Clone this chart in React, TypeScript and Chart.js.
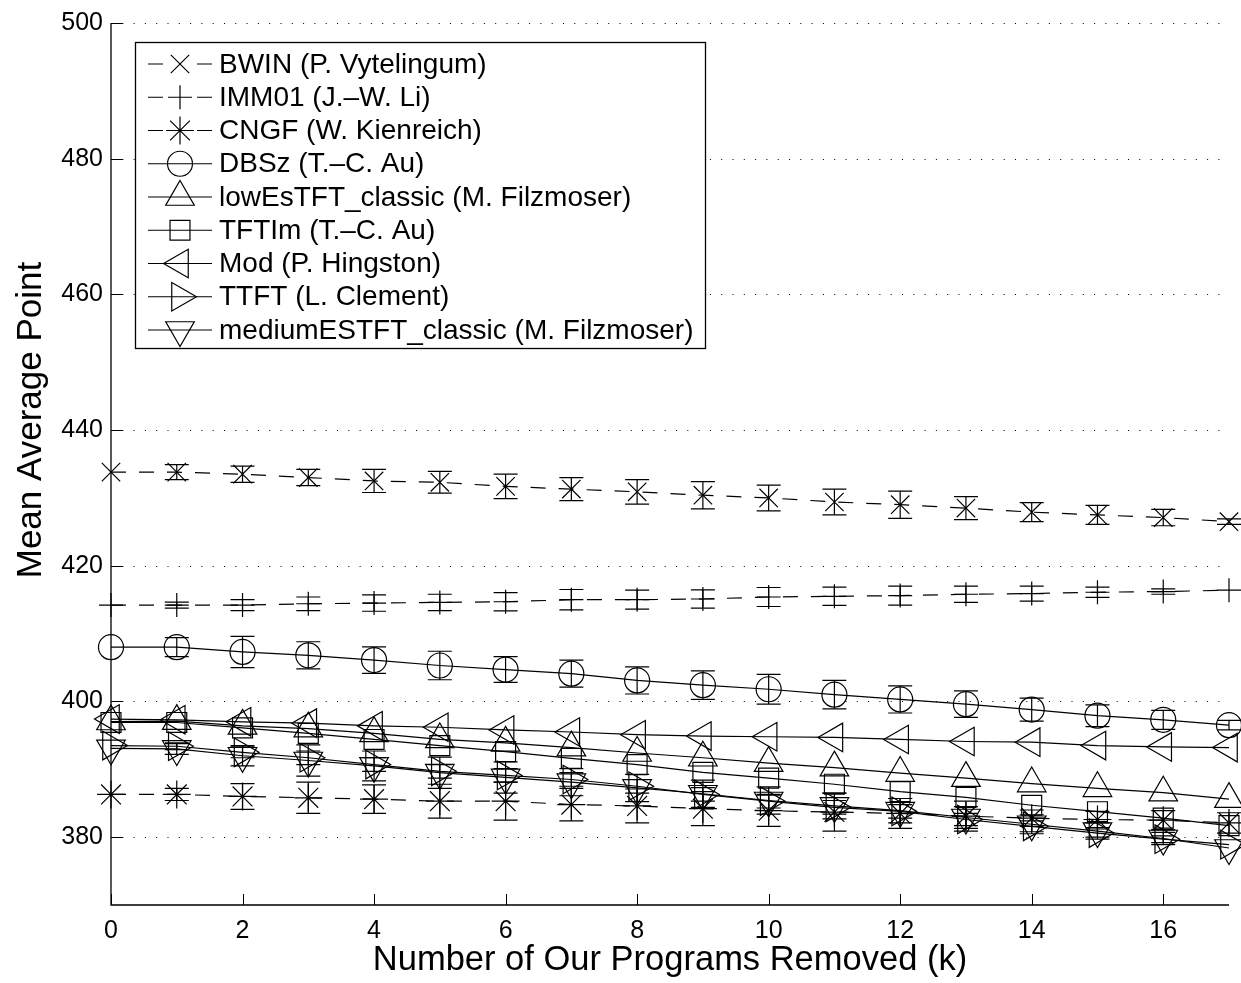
import React, { useEffect, useRef } from "react";
import { Chart, registerables } from "chart.js";

Chart.register(...registerables);

// ---------- data ----------
const kValues = [0, 1, 2, 3, 4, 5, 6, 7, 8, 9, 10, 11, 12, 13, 14, 15, 16, 17];
const xTickValues = [0, 2, 4, 6, 8, 10, 12, 14, 16];
const yTickValues = [380, 400, 420, 440, 460, 480, 500];
const xTitle = "Number of Our Programs Removed (k)";
const yTitle = "Mean Average Point";

const seriesLabels = [
  "BWIN (P. Vytelingum)",
  "IMM01 (J.\u2013W. Li)",
  "CNGF (W. Kienreich)",
  "DBSz (T.\u2013C. Au)",
  "lowEsTFT_classic (M. Filzmoser)",
  "TFTIm (T.\u2013C. Au)",
  "Mod (P. Hingston)",
  "TTFT (L. Clement)",
  "mediumESTFT_classic (M. Filzmoser)",
];

const bwin = [433.8, 433.8, 433.5, 433.0, 432.5, 432.3, 431.7, 431.3, 430.9, 430.4, 430.0, 429.4, 429.0, 428.5, 427.9, 427.5, 427.1, 426.5];
const bwinErr = [0, 1.1, 1.2, 1.2, 1.7, 1.6, 1.8, 1.7, 1.8, 2.0, 1.9, 1.9, 2.0, 1.7, 1.4, 1.4, 1.2, 0.4];

const imm01 = [414.2, 414.2, 414.2, 414.4, 414.5, 414.6, 414.7, 415.0, 415.0, 415.1, 415.4, 415.5, 415.6, 415.8, 415.9, 416.1, 416.2, 416.4];
const imm01Err = [0, 0.45, 0.8, 1.0, 1.2, 1.2, 1.35, 1.5, 1.4, 1.35, 1.4, 1.35, 1.4, 1.2, 1.1, 0.75, 0.4, 0];

const cngf = [386.3, 386.3, 386.0, 385.8, 385.6, 385.3, 385.3, 384.8, 384.6, 384.2, 383.9, 383.7, 383.5, 383.1, 382.8, 382.6, 382.5, 382.1];
const cngfErr = [0, 0.9, 1.9, 2.3, 2.1, 2.5, 2.8, 2.4, 2.5, 2.5, 2.3, 2.8, 2.2, 2.2, 1.2, 1.2, 1.4, 1.5];

const dbsz = [408.0, 408.0, 407.3, 406.8, 406.1, 405.3, 404.7, 404.1, 403.1, 402.4, 401.8, 401.0, 400.3, 399.6, 398.8, 397.9, 397.3, 396.5];
const dbszErr = [0, 1.4, 2.3, 2.0, 1.95, 2.1, 1.9, 2.0, 2.0, 2.1, 2.2, 2.1, 2.0, 1.95, 1.7, 1.6, 1.4, 0.7];

const lowEs = [397.05, 397.1, 396.4, 396.0, 395.3, 394.4, 393.9, 393.2, 392.4, 391.7, 390.9, 390.25, 389.45, 388.7, 387.9, 387.2, 386.55, 385.6];
const lowEsErr = [0, 0, 0, 0, 0, 0, 0, 0, 0, 0, 0, 0, 0, 0, 0, 0, 0, 0];

const tftim = [396.9, 396.9, 396.1, 395.3, 394.4, 393.5, 392.6, 391.6, 390.7, 389.55, 388.7, 387.8, 386.7, 385.85, 384.7, 383.75, 382.8, 381.7];
const tftimErr = [0, 0, 0, 0, 0, 0, 0, 0, 0, 0, 0, 0, 0, 0, 0, 0, 0, 0];

const mod = [397.4, 397.3, 397.0, 396.8, 396.4, 396.2, 395.8, 395.5, 395.1, 394.9, 394.8, 394.7, 394.4, 394.1, 394.0, 393.5, 393.3, 393.2];
const modErr = [0, 0, 0, 0, 0, 0, 0, 0, 0, 0, 0, 0, 0, 0, 0, 0, 0, 0];

const ttft = [393.5, 393.4, 392.5, 391.7, 390.7, 389.7, 389.1, 388.5, 387.5, 386.3, 385.3, 384.4, 383.8, 382.6, 381.6, 380.6, 379.7, 378.9];
const ttftErr = [0, 0.5, 0.8, 1.0, 1.0, 1.0, 1.0, 1.0, 1.0, 1.0, 1.0, 1.0, 1.0, 0.9, 0.8, 0.6, 0.5, 0];

const mediumEs = [393.1, 393.0, 392.0, 391.3, 390.5, 389.5, 388.8, 388.1, 387.25, 386.4, 385.4, 384.6, 383.9, 382.9, 381.9, 380.9, 379.8, 378.4];
const mediumEsErr = [0, 0.8, 1.5, 2.3, 2.2, 2.3, 2.3, 2.0, 2.0, 2.0, 2.0, 1.9, 1.8, 1.6, 1.4, 1.2, 0.9, 0];

const seriesValues = [bwin, imm01, cngf, dbsz, lowEs, tftim, mod, ttft, mediumEs];
const seriesErrors = [bwinErr, imm01Err, cngfErr, dbszErr, lowEsErr, tftimErr, modErr, ttftErr, mediumEsErr];

// ---------- styles ----------
const FONT = "'Liberation Sans', Arial, Helvetica, sans-serif";
type MarkerStyle = { style: string; radius: number; rotation: number; dashed: boolean };
const markerStyles: MarkerStyle[] = [
  { style: "crossRot", radius: 13, rotation: 0, dashed: true },
  { style: "cross", radius: 12, rotation: 0, dashed: true },
  { style: "star", radius: 14, rotation: 0, dashed: true },
  { style: "circle", radius: 12.5, rotation: 0, dashed: false },
  { style: "triangle", radius: 16.5, rotation: 0, dashed: false },
  { style: "rect", radius: 14.1, rotation: 0, dashed: false },
  { style: "triangle", radius: 16.5, rotation: 270, dashed: false },
  { style: "triangle", radius: 16.5, rotation: 90, dashed: false },
  { style: "triangle", radius: 16.5, rotation: 180, dashed: false },
];
const LINE_W = 1.2;
const DASH = [15, 13];

function drawMarker(ctx: CanvasRenderingContext2D, m: MarkerStyle, x: number, y: number) {
  const r = m.radius;
  ctx.beginPath();
  if (m.style === "circle") {
    ctx.arc(x, y, r, 0, Math.PI * 2);
  } else if (m.style === "rect") {
    const s = r * Math.SQRT1_2;
    ctx.rect(x - s, y - s, 2 * s, 2 * s);
  } else if (m.style === "triangle") {
    let a = (m.rotation * Math.PI) / 180;
    for (let i = 0; i < 3; i++) {
      const px = x + Math.sin(a) * r;
      const py = y - Math.cos(a) * r;
      if (i === 0) ctx.moveTo(px, py);
      else ctx.lineTo(px, py);
      a += (2 * Math.PI) / 3;
    }
    ctx.closePath();
  } else {
    const cross = () => {
      ctx.moveTo(x - r, y);
      ctx.lineTo(x + r, y);
      ctx.moveTo(x, y - r);
      ctx.lineTo(x, y + r);
    };
    const crossRot = () => {
      const o = r * Math.SQRT1_2;
      ctx.moveTo(x - o, y - o);
      ctx.lineTo(x + o, y + o);
      ctx.moveTo(x - o, y + o);
      ctx.lineTo(x + o, y - o);
    };
    if (m.style === "cross" || m.style === "star") cross();
    if (m.style === "crossRot" || m.style === "star") crossRot();
  }
  ctx.stroke();
}

const matlabPlugin = {
  id: "matlabLook",
  beforeDatasetsDraw(chart: any) {
    const { ctx, chartArea: a, scales } = chart;
    const x = scales.x;
    const y = scales.y;
    ctx.save();
    ctx.strokeStyle = "#000";
    ctx.lineWidth = 1;
    ctx.setLineDash([1, 10.3]);
    for (const v of yTickValues) {
      const py = Math.round(y.getPixelForValue(v)) + 0.5;
      ctx.beginPath();
      ctx.moveTo(a.left, py);
      ctx.lineTo(a.right, py);
      ctx.stroke();
    }
    ctx.setLineDash([]);
    ctx.lineWidth = 1.3;
    ctx.beginPath();
    ctx.moveTo(a.left, a.top);
    ctx.lineTo(a.left, a.bottom);
    ctx.lineTo(a.right, a.bottom);
    ctx.stroke();
    ctx.lineWidth = 1;
    for (const v of yTickValues) {
      const py = Math.round(y.getPixelForValue(v)) + 0.5;
      ctx.beginPath();
      ctx.moveTo(a.left, py);
      ctx.lineTo(a.left + 12, py);
      ctx.stroke();
    }
    for (const v of xTickValues) {
      const px = Math.round(x.getPixelForValue(v)) + 0.5;
      ctx.beginPath();
      ctx.moveTo(px, a.bottom);
      ctx.lineTo(px, a.bottom - 11);
      ctx.stroke();
    }
    ctx.restore();
  },
  afterDatasetsDraw(chart: any) {
    const { ctx, scales } = chart;
    const x = scales.x;
    const y = scales.y;
    ctx.save();
    ctx.strokeStyle = "#000";
    ctx.lineWidth = LINE_W;
    ctx.setLineDash([]);
    seriesValues.forEach((vals, i) => {
      const errs = seriesErrors[i];
      vals.forEach((v, j) => {
        const e = errs[j];
        if (!e) return;
        const px = x.getPixelForValue(kValues[j]);
        const t = y.getPixelForValue(v + e);
        const b = y.getPixelForValue(v - e);
        ctx.beginPath();
        ctx.moveTo(px, t);
        ctx.lineTo(px, b);
        ctx.moveTo(px - 12, t);
        ctx.lineTo(px + 12, t);
        ctx.moveTo(px - 12, b);
        ctx.lineTo(px + 12, b);
        ctx.stroke();
      });
    });
    ctx.restore();
  },
  afterDraw(chart: any) {
    const { ctx } = chart;
    ctx.save();
    // y-axis title
    ctx.fillStyle = "#000";
    ctx.font = `35px ${FONT}`;
    ctx.textAlign = "center";
    ctx.textBaseline = "middle";
    ctx.translate(31, 420);
    ctx.rotate(-Math.PI / 2);
    ctx.fillText(yTitle, 0, 0);
    ctx.setTransform(1, 0, 0, 1, 0, 0);

    // legend
    const box = { left: 135.5, top: 42.5, right: 705.5, bottom: 348.5 };
    ctx.fillStyle = "#fff";
    ctx.fillRect(box.left, box.top, box.right - box.left, box.bottom - box.top);
    ctx.strokeStyle = "#000";
    ctx.lineWidth = 1.3;
    ctx.strokeRect(box.left, box.top, box.right - box.left, box.bottom - box.top);
    ctx.font = `28px ${FONT}`;
    ctx.textBaseline = "middle";
    ctx.textAlign = "left";
    ctx.fillStyle = "#000";
    seriesLabels.forEach((label, i) => {
      const m = markerStyles[i];
      const cy = 64 + i * 33.25;
      const cx = 180;
      ctx.lineWidth = LINE_W;
      ctx.beginPath();
      if (m.dashed) {
        ctx.moveTo(148, cy);
        ctx.lineTo(163, cy);
        ctx.moveTo(197, cy);
        ctx.lineTo(212, cy);
      } else {
        ctx.moveTo(148, cy);
        ctx.lineTo(212, cy);
      }
      ctx.stroke();
      drawMarker(ctx, m, cx, cy);
      ctx.fillText(label, 219, cy + 1);
    });
    ctx.restore();
  },
};

export default function App() {
  const canvasRef = useRef<HTMLCanvasElement | null>(null);

  useEffect(() => {
    document.body.style.margin = "0";
    const canvas = canvasRef.current;
    if (!canvas) return;
    const datasets = seriesValues.map((vals, i) => {
      const m = markerStyles[i];
      return {
        label: seriesLabels[i],
        data: kValues.map((k, j) => ({ x: k, y: vals[j] })),
        borderColor: "#000",
        borderWidth: LINE_W,
        borderDash: m.dashed ? DASH : [],
        pointStyle: m.style,
        pointRadius: m.radius,
        pointRotation: m.rotation,
        pointBorderColor: "#000",
        pointBackgroundColor: "rgba(0,0,0,0)",
        pointBorderWidth: LINE_W,
        fill: false,
        tension: 0,
        clip: false as any,
      };
    });
    const chart = new Chart(canvas, {
      type: "line",
      data: { datasets: datasets as any },
      options: {
        responsive: false,
        animation: false,
        events: [],
        layout: { autoPadding: false, padding: { top: 23, right: 12, left: 0, bottom: 0 } },
        plugins: {
          legend: { display: false },
          tooltip: { enabled: false },
          title: { display: false },
        },
        scales: {
          x: {
            type: "linear",
            min: 0,
            max: 17,
            afterBuildTicks: (s: any) => {
              s.ticks = xTickValues.map((v) => ({ value: v }));
            },
            afterFit: (s: any) => {
              s.height = 78;
              s.paddingLeft = 0;
              s.paddingRight = 0;
            },
            ticks: {
              font: { family: FONT, size: 25 },
              color: "#000",
              padding: 11,
              maxRotation: 0,
              autoSkip: false,
            },
            grid: { display: false, drawTicks: false },
            border: { display: false },
            title: {
              display: true,
              text: xTitle,
              font: { family: FONT, size: 34.5 },
              color: "#000",
              padding: { top: 0, bottom: 2 },
            },
          },
          y: {
            type: "linear",
            min: 370,
            max: 500,
            afterBuildTicks: (s: any) => {
              s.ticks = yTickValues.map((v) => ({ value: v }));
            },
            afterFit: (s: any) => {
              s.width = 111;
            },
            ticks: {
              font: { family: FONT, size: 25 },
              color: "#000",
              padding: 8,
              autoSkip: false,
            },
            grid: { display: false, drawTicks: false },
            border: { display: false },
            title: { display: false },
          },
        },
      } as any,
      plugins: [matlabPlugin],
    });
    return () => chart.destroy();
  }, []);

  return (
    <div style={{ width: 1241, height: 983, background: "#fff" }}>
      <canvas ref={canvasRef} width={1241} height={983} style={{ display: "block" }} />
    </div>
  );
}
